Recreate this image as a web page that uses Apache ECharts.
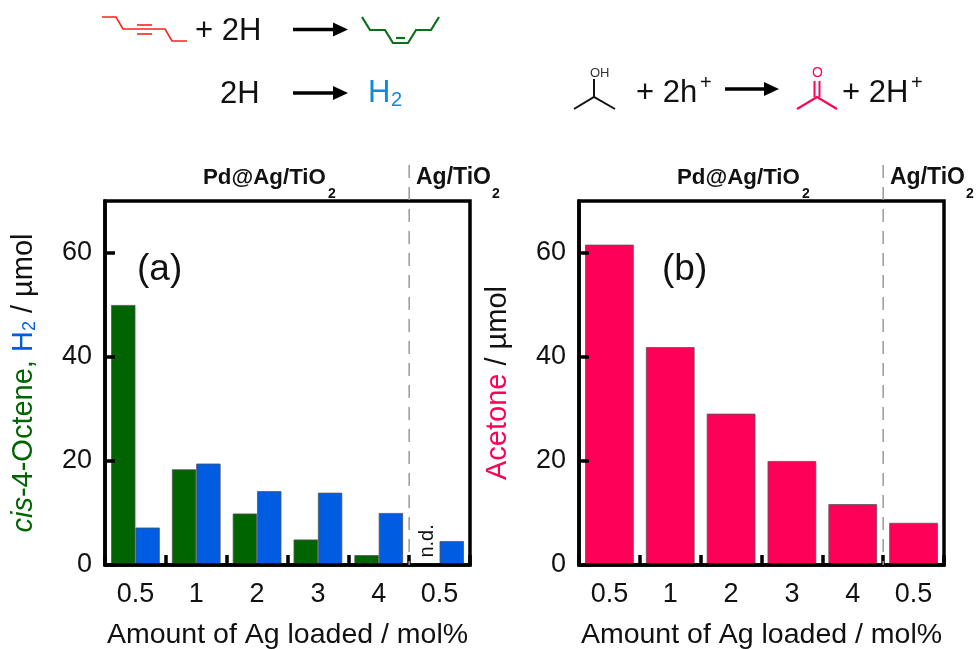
<!DOCTYPE html>
<html>
<head>
<meta charset="utf-8">
<style>html,body{margin:0;padding:0;background:#fff}#c{width:976px;height:649px}</style>
<script src="https://cdn.jsdelivr.net/npm/echarts@6/dist/echarts.min.js"></script>
</head>
<body>
<div id="c"></div>
<script>
const categories = ['0.5', '1', '2', '3', '4', '0.5'];
const octene = [50, 18.4, 9.9, 4.9, 1.9, 0];
const hydrogen = [7.2, 19.5, 14.2, 13.9, 10, 4.6];
const acetone = [61.6, 41.9, 29.1, 20, 11.7, 8.1];
const yTicks = [0, 20, 40, 60];
const octeneLabels = ['', '', '', '', '', 'n.d.'];

const FONT = '"Liberation Sans", Arial, sans-serif';
const GREEN = '#006400', BLUE = '#005ce0', PINK = '#ff0058', TEXT = '#111';
const barBorder = { borderColor: '#555', borderWidth: 0.8 };

const xAxisBase = g => ({
  type: 'category', gridIndex: g, data: categories,
  name: 'Amount of Ag loaded / mol%', nameLocation: 'middle', nameGap: 56,
  nameTextStyle: { fontFamily: FONT, fontSize: 28.5, color: TEXT },
  axisLine: { lineStyle: { color: '#000', width: 3.5 } },
  axisTick: { show: true, inside: true, length: 10, alignWithLabel: false, lineStyle: { color: '#000', width: 3.5 } },
  axisLabel: { fontFamily: FONT, fontSize: 27, color: TEXT, margin: 16, interval: 0 },
  z: 5
});
const yAxisBase = (g, extra) => Object.assign({
  type: 'value', gridIndex: g, min: 0, max: 70, interval: 10,
  nameLocation: 'middle', nameRotate: 90,
  axisLine: { show: true, lineStyle: { color: '#000', width: 3.5 } },
  axisTick: { show: true, inside: true, length: 10, customValues: yTicks, lineStyle: { color: '#000', width: 3.5 } },
  axisLabel: { fontFamily: FONT, fontSize: 27, color: TEXT, margin: 13, customValues: yTicks },
  splitLine: { show: false },
  z: 5
}, extra);

const richName = {
  g: { color: GREEN, fontFamily: FONT, fontSize: 29 },
  gi: { color: GREEN, fontFamily: FONT, fontSize: 29, fontStyle: 'italic' },
  b: { color: BLUE, fontFamily: FONT, fontSize: 29 },
  bs: { color: BLUE, fontFamily: FONT, fontSize: 18, verticalAlign: 'bottom', padding: [12, 0, 0, 0] },
  k: { color: TEXT, fontFamily: FONT, fontSize: 29 },
  p: { color: PINK, fontFamily: FONT, fontSize: 29 }
};

const gridFrame = { show: true, borderColor: '#000', borderWidth: 3.5, backgroundColor: 'transparent', top: 201, height: 364, width: 365, outerBoundsMode: 'none', containLabel: false };

const chart = echarts.init(document.getElementById('c'), null, { renderer: 'canvas' });

chart.setOption({
  animation: false,
  backgroundColor: '#fff',
  grid: [
    Object.assign({ left: 105 }, gridFrame),
    Object.assign({ left: 579 }, gridFrame)
  ],
  xAxis: [xAxisBase(0), xAxisBase(1)],
  yAxis: [
    yAxisBase(0, {
      name: '{gi|cis}{g|-4-Octene,} {b|H}{bs|2}{k| / µmol}', nameGap: 66,
      nameTextStyle: { rich: richName, fontFamily: FONT, fontSize: 29 }
    }),
    yAxisBase(1, {
      name: '{p|Acetone}{k| / µmol}', nameGap: 67,
      nameTextStyle: { rich: richName, fontFamily: FONT, fontSize: 29 }
    })
  ],
  series: [
    {
      name: 'cis-4-Octene', type: 'bar', xAxisIndex: 0, yAxisIndex: 0, data: octene,
      barWidth: '40%', barGap: 0,
      itemStyle: Object.assign({ color: GREEN }, barBorder),
      label: {
        show: true, position: 'top', distance: 7, rotate: 90, align: 'left', verticalAlign: 'middle',
        fontFamily: FONT, fontSize: 20, color: TEXT,
        formatter: p => octeneLabels[p.dataIndex]
      }
    },
    {
      name: 'H2', type: 'bar', xAxisIndex: 0, yAxisIndex: 0, data: hydrogen,
      barWidth: '40%', barGap: 0,
      itemStyle: Object.assign({ color: BLUE }, barBorder)
    },
    {
      name: 'Acetone', type: 'bar', xAxisIndex: 1, yAxisIndex: 1, data: acetone,
      barWidth: '80%',
      itemStyle: Object.assign({ color: PINK }, barBorder)
    }
  ]
});

function divider(g) {
  const a = chart.convertToPixel({ xAxisIndex: g }, 4);
  const b = chart.convertToPixel({ xAxisIndex: g }, 5);
  const x = (a + b) / 2;
  const y0 = chart.convertToPixel({ yAxisIndex: g }, 0);
  return { type: 'line', silent: true, z: 20, shape: { x1: x, y1: 165, x2: x, y2: y0 },
    style: { stroke: '#999', lineWidth: 1.5, lineDash: [13, 9] } };
}
const poly = (pts, color, w) => ({ type: 'polyline', silent: true, shape: { points: pts },
  style: { stroke: color, lineWidth: w, fill: null, lineJoin: 'miter' } });
const seg = (x1, y1, x2, y2, color, w) => ({ type: 'line', silent: true, shape: { x1, y1, x2, y2 }, style: { stroke: color, lineWidth: w } });
const txt = (x, y, text, size, color, opt) => ({ type: 'text', silent: true, x, y,
  style: Object.assign({ text, fontFamily: FONT, fontSize: size, fill: color, textAlign: 'left', textVerticalAlign: 'middle' }, opt || {}) });
const arrow = (x1, x2, y) => [
  seg(x1, y, x2 - 12, y, '#000', 3.5),
  { type: 'polygon', silent: true, shape: { points: [[x2 - 15, y - 7], [x2, y], [x2 - 15, y + 7]] }, style: { fill: '#000' } }
];
const bold = { fontWeight: 'bold' };

chart.setOption({
  graphic: [
    divider(0), divider(1),
    txt(137, 270, '(a)', 37, TEXT),
    txt(662, 270, '(b)', 37, TEXT),
    txt(203, 178, 'Pd@Ag/TiO', 22.3, TEXT, bold), txt(328, 194, '2', 14, TEXT, bold),
    txt(677, 178, 'Pd@Ag/TiO', 22.3, TEXT, bold), txt(802, 194, '2', 14, TEXT, bold),
    txt(416, 178, 'Ag/TiO', 23, TEXT, bold), txt(492, 194, '2', 14, TEXT, bold),
    txt(890, 178, 'Ag/TiO', 23, TEXT, bold), txt(966, 194, '2', 14, TEXT, bold),

    poly([[102, 17], [116, 17], [123, 29], [165, 29], [172, 41], [187, 41]], '#ff2020', 1.6),
    seg(137, 25, 152, 25, '#ff2020', 1.6), seg(137, 34, 152, 34, '#ff2020', 1.6),
    txt(195, 31, '+ 2H', 31, TEXT),
    ...arrow(293, 348, 29.5),
    poly([[362, 17], [370, 30], [385, 30], [393, 43], [408, 43], [416, 30], [431, 30], [439, 17]], '#0b7016', 2.2),
    seg(396, 38, 405, 38, '#0b7016', 2.2),

    txt(220, 94, '2H', 31, TEXT),
    ...arrow(293, 348, 93),
    txt(368, 93, 'H', 31, '#0a8be0'), txt(391, 100, '2', 20, '#0a8be0'),

    poly([[574, 109], [594, 97], [615, 109]], '#111', 2),
    seg(594, 97, 594, 79, '#111', 2),
    txt(590, 73, 'OH', 13, '#333'),
    txt(636, 93, '+ 2h', 31, TEXT), txt(700, 83, '+', 20, TEXT),
    ...arrow(725, 779, 89),
    poly([[797, 109], [817, 97], [837, 109]], PINK, 2.2),
    seg(814.5, 97, 814.5, 81, PINK, 2), seg(819.5, 97, 819.5, 81, PINK, 2),
    txt(812, 73, 'O', 14, PINK),
    txt(842, 93, '+ 2H', 31, TEXT), txt(911, 83, '+', 20, TEXT)
  ]
});
</script>
</body>
</html>
